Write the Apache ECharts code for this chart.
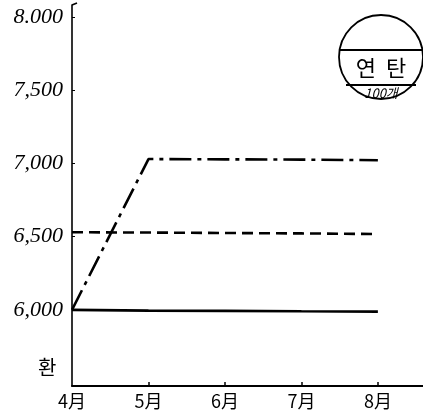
<!DOCTYPE html>
<html style="height: 100%">
	<head>
		<meta charset="utf-8">
	</head>
	<body style="height: 100%; margin: 0; background: #fff">
		<div id="container" style="width: 423px; height: 416px"></div>
		<script src="https://cdn.jsdelivr.net/npm/echarts@6/dist/echarts.min.js" type="text/javascript" charset="utf-8"></script>
		<script type="text/javascript">
			// 월 (x축)
			var months = ['4月', '5月', '6月', '7月', '8月'];
			// y축 눈금
			var yTickValues = [6000, 6500, 7000, 7500, 8000];
			var yTickLabels = ['6,000', '6,500', '7,000', '7,500', '8.000'];
			// 세 개의 선
			var solidLine = [6000, 5995, 5993, 5990, 5988];
			var dashedLine = [6530, 6528, 6525, 6522, 6518];
			var dashDotLine = [6000, 7030, 7028, 7026, 7022];

			var toPoints = function (arr) {
				var res = [];
				for (var i = 0; i < arr.length; i++) {
					res.push([i, arr[i]]);
				}
				return res;
			};

			var myChart = echarts.init(document.getElementById('container'));

			var option = {
				backgroundColor: '#fff',
				animation: false,
				grid: { left: 72, right: 0, top: 5, bottom: 30 },
				xAxis: {
					type: 'value',
					min: 0,
					max: 4.59,
					splitLine: { show: false },
					axisLine: { lineStyle: { color: '#000', width: 2 } },
					axisTick: { inside: true, length: 4, customValues: [1, 2, 3, 4], lineStyle: { color: '#000', width: 1.5 } },
					axisLabel: {
						customValues: [0, 1, 2, 3, 4],
						formatter: function (v) { return months[Math.round(v)]; },
						color: '#000',
						fontSize: 18,
						fontFamily: 'Noto Sans CJK KR',
						margin: 6
					}
				},
				yAxis: {
					type: 'value',
					min: 5480,
					max: 8082,
					splitLine: { show: false },
					axisLine: { show: true, lineStyle: { color: '#000', width: 1.6 } },
					axisTick: { show: true, inside: true, length: 3, customValues: yTickValues, lineStyle: { color: '#000', width: 1 } },
					axisLabel: {
						customValues: yTickValues,
						formatter: function (v) {
							var i = yTickValues.indexOf(v);
							return i >= 0 ? yTickLabels[i] : '';
						},
						color: '#000',
						fontSize: 22,
						fontStyle: 'italic',
						fontFamily: 'Liberation Serif',
						margin: 9
					}
				},
				graphic: [
					// 축 위쪽 갈고리
					{ type: 'line', shape: { x1: 72, y1: 5, x2: 77, y2: 3 }, style: { stroke: '#000', lineWidth: 1.6 } },
					// 단위
					{ type: 'text', left: 38, top: 357, style: { text: '환', fill: '#000', font: '20px "Noto Sans CJK KR"' } },
					// 연탄 도장
					{ type: 'circle', shape: { cx: 381, cy: 57, r: 42 }, style: { fill: 'none', stroke: '#000', lineWidth: 1.8 } },
					{ type: 'line', shape: { x1: 340, y1: 50, x2: 422, y2: 50 }, style: { stroke: '#000', lineWidth: 1.8 } },
					{ type: 'line', shape: { x1: 346, y1: 85, x2: 416, y2: 85 }, style: { stroke: '#000', lineWidth: 1.8 } },
					{ type: 'text', x: 381, y: 68, style: { text: '연  탄', fill: '#000', font: '22px "Noto Sans CJK KR"', align: 'center', verticalAlign: 'middle' } },
					{ type: 'text', x: 381, y: 93, style: { text: '100개', fill: '#000', font: 'italic 13px "Noto Sans CJK KR"', align: 'center', verticalAlign: 'middle' } }
				],
				series: [
					{
						name: 'solid',
						type: 'line',
						symbol: 'none',
						lineStyle: { color: '#000', width: 2.6, type: 'solid' },
						data: toPoints(solidLine)
					},
					{
						name: 'dashed',
						type: 'line',
						symbol: 'none',
						lineStyle: { color: '#000', width: 2.6, type: [11, 6] },
						data: toPoints(dashedLine)
					},
					{
						name: 'dashdot',
						type: 'line',
						symbol: 'none',
						lineStyle: { color: '#000', width: 2.6, type: [22, 6, 4, 6] },
						data: toPoints(dashDotLine)
					}
				]
			};
			myChart.setOption(option);
		</script>
	</body>
</html>
